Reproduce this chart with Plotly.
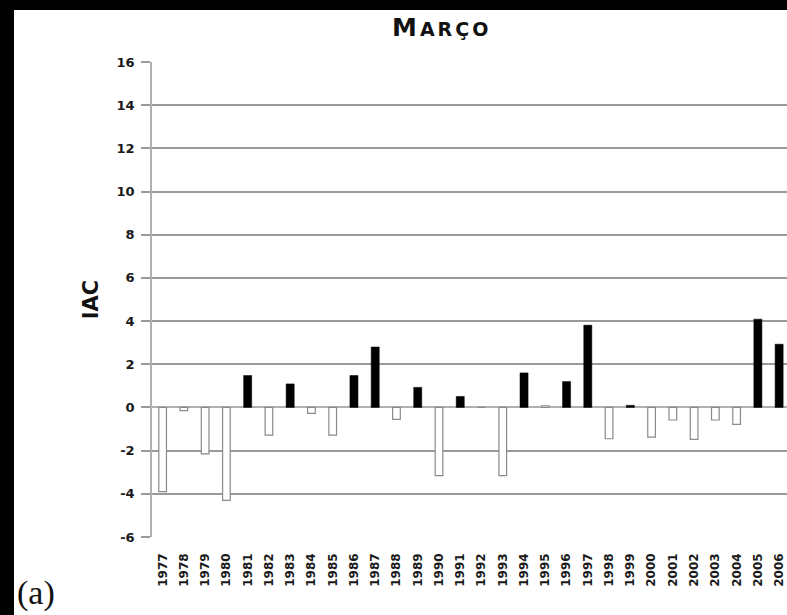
import plotly.graph_objects as go

years = list(range(1977, 2007))
iac = [-3.9, -0.15, -2.15, -4.3, 1.48, -1.28, 1.09, -0.27, -1.28, 1.48,
       2.8, -0.55, 0.93, -3.16, 0.51, 0.0, -3.16, 1.6, 0.08, 1.2,
       3.81, -1.45, 0.1, -1.37, -0.58, -1.48, -0.58, -0.78, 4.09, 2.93]
y_ticks = list(range(-6, 18, 2))

W, H = 787, 615
L, R, T, B = 152, 0, 62, 78
pw, ph = W - L - R, H - T - B

def px_x(p):
    return (p - L) / pw

def px_y(p):
    return 1 - (p - T) / ph

pos_x = [y for y, v in zip(years, iac) if v > 0 and y != 1995]
pos_v = [v for y, v in zip(years, iac) if v > 0 and y != 1995]
neg_x = [y for y, v in zip(years, iac) if v <= 0 or y == 1995]
neg_v = [v for y, v in zip(years, iac) if v <= 0 or y == 1995]

BOLD = "DejaVu Sans, Liberation Sans, Arial"

fig = go.Figure()
fig.add_trace(go.Bar(x=pos_x, y=pos_v, width=0.38,
                     marker=dict(color="#000000", line=dict(color="#000000", width=0.5)),
                     showlegend=False))
fig.add_trace(go.Bar(x=neg_x, y=neg_v, width=0.36,
                     marker=dict(color="#ffffff", line=dict(color="#8a8a8a", width=1.2)),
                     showlegend=False))

fig.update_layout(
    width=W, height=H,
    margin=dict(l=L, r=R, t=T, b=B, autoexpand=False),
    paper_bgcolor="#ffffff", plot_bgcolor="#ffffff",
    barmode="overlay",
    font=dict(family=BOLD, color="#000000"),
    xaxis=dict(range=[1976.5, 2006.37], tickmode="array", tickvals=years,
               ticktext=[f"<b>{y}</b>" for y in years], tickangle=-90,
               tickfont=dict(size=12, color="#1a1a1a", family=BOLD), showgrid=False,
               showline=False, zeroline=False, ticks="", ticklabelstandoff=13),
    yaxis=dict(range=[-6, 16], tickmode="array", tickvals=y_ticks,
               ticktext=[f"<b>{t}</b>" for t in y_ticks],
               tickfont=dict(size=13, color="#1a1a1a", family=BOLD),
               showgrid=True, gridcolor="#9a9a9a", gridwidth=1.5,
               zeroline=True, zerolinecolor="#b0b0b0", zerolinewidth=1.5,
               showline=True, linecolor="#b0b0b0", linewidth=1.5,
               ticks="outside", ticklen=9, tickcolor="#9a9a9a", tickwidth=1.5,
               ticklabelstandoff=4,
               title=dict(text="<b>IAC</b>", font=dict(size=21, color="#111111", family=BOLD),
                          standoff=12)),
    shapes=[
        dict(type="rect", xref="paper", yref="paper", x0=px_x(0), x1=px_x(14),
             y0=px_y(0), y1=px_y(H), fillcolor="#000000", line=dict(width=0), layer="above"),
        dict(type="rect", xref="paper", yref="paper", x0=px_x(0), x1=px_x(W),
             y0=px_y(0), y1=px_y(10), fillcolor="#000000", line=dict(width=0), layer="above"),
    ],
    annotations=[
        dict(text="<b><span style='letter-spacing:3px'>M</span><span style='font-size:19px;letter-spacing:3px'>ARÇO</span></b>",
             xref="paper", yref="paper",
             x=px_x(441), y=px_y(27), xanchor="center", yanchor="middle", showarrow=False,
             font=dict(size=25, color="#111111", family=BOLD)),
        dict(text="(a)", xref="paper", yref="paper", x=px_x(15), y=px_y(593),
             xanchor="left", yanchor="middle", showarrow=False,
             font=dict(size=34, color="#111111", family="Liberation Serif, Times New Roman")),
    ],
)

fig.write_html("out.html", config={"displayModeBar": False},
               post_script="document.body.style.margin='0';document.body.style.overflow='hidden';")
